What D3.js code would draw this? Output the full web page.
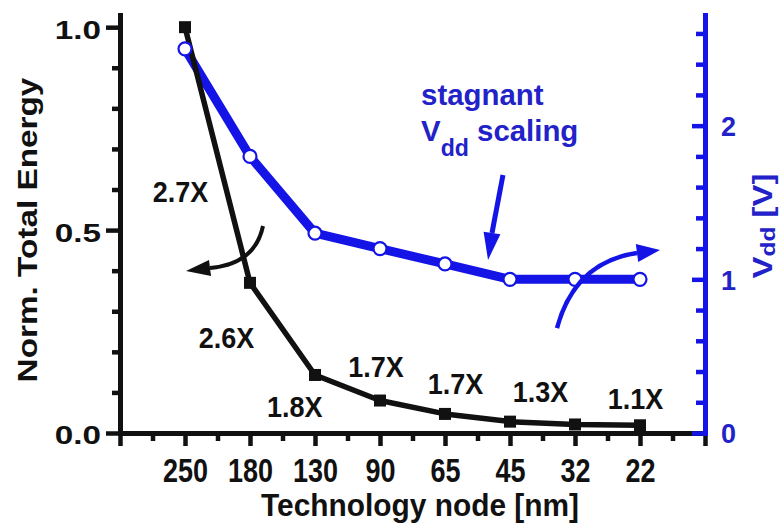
<!DOCTYPE html>
<html>
<head>
<meta charset="utf-8">
<script src="https://cdn.jsdelivr.net/npm/d3@7"></script>
<style>
  html, body { margin: 0; padding: 0; background: #fff; overflow: hidden; }
</style>
</head>
<body>
<div id="chart"></div>
<script>
// --- data -----------------------------------------------------------
const categories = ["250", "180", "130", "90", "65", "45", "32", "22"];
const energy = [1.0, 0.37, 0.143, 0.08, 0.047, 0.028, 0.021, 0.019];
const vdd = [2.5, 1.8, 1.3, 1.2, 1.1, 1.0, 1.0, 1.0];
const ratioLabels = ["2.7X", "2.6X", "1.8X", "1.7X", "1.7X", "1.3X", "1.1X"];
const leftTicks = [0, 0.5, 1.0];
const rightTicks = [0, 1, 2];

// annotation anchors, in data units: [category index, axis value]
const ratioLabelPos = [[-0.07, 0.596], [0.64, 0.235], [1.69, 0.0665], [2.94, 0.164],
                       [4.16, 0.122], [5.47, 0.103], [6.93, 0.087]];

const W = 781, H = 524;
const FONT = "'Liberation Sans', Arial, Helvetica, sans-serif";
const BLACK = "#111";
const BLUE = "#1414e6";
const BLUE_TEXT = "#2222c8";

const svg = d3.select("#chart").append("svg")
    .attr("width", W)
    .attr("height", H)
    .style("display", "block");

svg.append("rect").attr("width", W).attr("height", H).attr("fill", "#fff");

const x = d3.scaleLinear().domain([-1, 8]).range([120, 705]);
const yL = d3.scaleLinear().domain([0, 1.03]).range([433, 15]);
const yR = d3.scaleLinear().domain([0, 2.72]).range([433, 15]);

// stretch text around its own box (the source figure's fonts are distorted)
function stretch(sel, sx, sy) {
    sel.style("transform-box", "fill-box")
        .style("transform-origin", "center")
        .style("transform", `scale(${sx},${sy})`);
}

function styleAxis(g, color) {
    g.select(".domain")
        .attr("stroke", color)
        .attr("stroke-width", 5)
        .attr("stroke-linecap", "square");
    g.selectAll(".tick line")
        .attr("stroke", color)
        .attr("stroke-width", 4.5);
    g.selectAll(".tick text")
        .attr("fill", color)
        .attr("font-family", FONT)
        .attr("font-weight", "bold");
}

// --- x axis ---------------------------------------------------------
const xMinor = svg.append("g")
    .attr("transform", `translate(0,${yL(0)})`)
    .call(d3.axisBottom(x).tickValues(d3.range(-0.5, 8, 1)).tickSize(8).tickFormat(() => ""));
xMinor.select(".domain").remove();
styleAxis(xMinor, BLACK);

const xAxis = svg.append("g")
    .attr("transform", `translate(0,${yL(0)})`)
    .call(d3.axisBottom(x)
        .tickValues(d3.range(-1, 9))
        .tickSize(13)
        .tickSizeOuter(0)
        .tickPadding(15)
        .tickFormat(i => categories[i] || ""));
styleAxis(xAxis, BLACK);
xAxis.selectAll(".tick text").attr("font-size", 27).call(stretch, 1, 1.2);

// --- left axis ------------------------------------------------------
const yMinor = svg.append("g")
    .attr("transform", `translate(${x(-1)},0)`)
    .call(d3.axisLeft(yL)
        .tickValues(d3.range(0.1, 1.0, 0.1).filter(v => Math.abs(v - 0.5) > 1e-6))
        .tickSize(8)
        .tickFormat(() => ""));
yMinor.select(".domain").remove();
styleAxis(yMinor, BLACK);

const yAxis = svg.append("g")
    .attr("transform", `translate(${x(-1)},0)`)
    .call(d3.axisLeft(yL)
        .tickValues(leftTicks)
        .tickSize(14)
        .tickSizeOuter(0)
        .tickPadding(10)
        .tickFormat(d3.format(".1f")));
styleAxis(yAxis, BLACK);
yAxis.selectAll(".tick text").attr("font-size", 26).attr("dy", "0.42em").call(stretch, 1.28, 1);

// --- right axis -----------------------------------------------------
const rMinor = svg.append("g")
    .attr("transform", `translate(${x(8)},0)`)
    .call(d3.axisRight(yR)
        .tickValues(d3.range(0.2, 2.7, 0.2).filter(v => Math.abs(v - Math.round(v)) > 1e-6))
        .tickSize(-9)
        .tickFormat(() => ""));
rMinor.select(".domain").remove();
styleAxis(rMinor, BLUE);

const rAxis = svg.append("g")
    .attr("transform", `translate(${x(8)},0)`)
    .call(d3.axisRight(yR)
        .tickValues(rightTicks)
        .tickSize(-13)
        .tickSizeOuter(0)
        .tickPadding(16)
        .tickFormat(d3.format("d")));
styleAxis(rAxis, BLUE);
rAxis.selectAll(".tick text").attr("font-size", 27).attr("dy", "0.36em").attr("fill", BLUE_TEXT);

// --- axis titles ----------------------------------------------------
svg.append("text")
    .attr("x", 420)
    .attr("y", 516)
    .attr("text-anchor", "middle")
    .attr("font-family", FONT)
    .attr("font-weight", "bold")
    .attr("font-size", 29)
    .attr("fill", BLACK)
    .text("Technology node [nm]")
    .call(stretch, 1.03, 1.05);

svg.append("g")
    .attr("transform", "translate(37,230) rotate(-90)")
    .append("text")
    .attr("text-anchor", "middle")
    .attr("font-family", FONT)
    .attr("font-weight", "bold")
    .attr("font-size", 28)
    .attr("fill", BLACK)
    .text("Norm. Total Energy")
    .call(stretch, 1.19, 1);

const rTitle = svg.append("g")
    .attr("transform", "translate(772,226) rotate(-90)")
    .append("text")
    .attr("text-anchor", "middle")
    .attr("font-family", FONT)
    .attr("font-weight", "bold")
    .attr("font-size", 27)
    .attr("fill", BLUE_TEXT);
rTitle.append("tspan").text("V");
rTitle.append("tspan").attr("font-size", 20).attr("dy", 3).text("dd");
rTitle.append("tspan").attr("dy", -3).text(" [V]");
rTitle.call(stretch, 1.22, 1);

// --- series ---------------------------------------------------------
const vddLine = d3.line().x((d, i) => x(i)).y(d => yR(d));
const energyLine = d3.line().x((d, i) => x(i)).y(d => yL(d));

svg.append("path")
    .datum(vdd)
    .attr("d", vddLine)
    .attr("fill", "none")
    .attr("stroke", BLUE)
    .attr("stroke-width", 9)
    .attr("stroke-linejoin", "round");

svg.append("path")
    .datum(energy)
    .attr("d", energyLine)
    .attr("fill", "none")
    .attr("stroke", BLACK)
    .attr("stroke-width", 5.5)
    .attr("stroke-linejoin", "round");

const sq = 12;
svg.selectAll(".sq")
    .data(energy)
    .enter().append("rect")
    .attr("class", "sq")
    .attr("x", (d, i) => x(i) - sq / 2)
    .attr("y", d => yL(d) - sq / 2)
    .attr("width", sq)
    .attr("height", sq)
    .attr("fill", BLACK);

svg.selectAll(".dot")
    .data(vdd)
    .enter().append("circle")
    .attr("class", "dot")
    .attr("cx", (d, i) => x(i))
    .attr("cy", d => yR(d))
    .attr("r", 6.5)
    .attr("fill", "#fff")
    .attr("stroke", BLUE)
    .attr("stroke-width", 2.2);

// --- ratio labels ---------------------------------------------------
svg.selectAll(".ratio")
    .data(ratioLabels)
    .enter().append("text")
    .attr("class", "ratio")
    .attr("x", (d, i) => x(ratioLabelPos[i][0]))
    .attr("y", (d, i) => yL(ratioLabelPos[i][1]) + 9.7)
    .attr("text-anchor", "middle")
    .attr("font-family", FONT)
    .attr("font-weight", "bold")
    .attr("font-size", 27)
    .attr("fill", BLACK)
    .text(d => d)
    .call(stretch, 1, 1.12);

// --- arrows ---------------------------------------------------------
// pts in data units: start, [ctrl], head base, tip
function arrow(pts, ys, color, width, half) {
    const p = pts.map(d => [x(d[0]), ys(d[1])]);
    const tip = p[p.length - 1];
    const base = p[p.length - 2];
    let d = `M${p[0][0]},${p[0][1]}`;
    if (p.length === 4) d += `Q${p[1][0]},${p[1][1]} ${base[0]},${base[1]}`;
    else d += `L${base[0]},${base[1]}`;
    svg.append("path")
        .attr("d", d)
        .attr("fill", "none")
        .attr("stroke", color)
        .attr("stroke-width", width);
    const dx = tip[0] - base[0], dy = tip[1] - base[1];
    const len = Math.hypot(dx, dy);
    const nx = -dy / len * half, ny = dx / len * half;
    svg.append("path")
        .attr("d", `M${tip[0]},${tip[1]}L${base[0] + nx},${base[1] + ny}L${base[0] - nx},${base[1] - ny}Z`)
        .attr("fill", color);
}

arrow([[1.2, 0.510], [1.077, 0.4165], [0.385, 0.4066], [0.015, 0.399]], yL, BLACK, 4, 8);
arrow([[5.723, 0.683], [6.0, 1.113], [6.954, 1.171], [7.308, 1.191]], yR, BLUE, 4.5, 9);
arrow([[4.892, 1.679], [4.723, 1.301], [4.662, 1.126]], yR, BLUE, 5, 8.5);

// --- annotation text ------------------------------------------------
const note = svg.append("text")
    .attr("font-family", FONT)
    .attr("font-weight", "bold")
    .attr("font-size", 28)
    .attr("fill", BLUE_TEXT);
note.append("tspan").attr("x", x(3.69)).attr("y", yR(2.128)).text("stagnant");
note.append("tspan").attr("x", x(3.69)).attr("y", yR(1.907)).text("V");
note.append("tspan").attr("font-size", 22).attr("dy", 14).text("dd");
note.append("tspan").attr("dy", -14).text(" scaling");
note.call(stretch, 1.05, 1.05);
</script>
</body>
</html>
